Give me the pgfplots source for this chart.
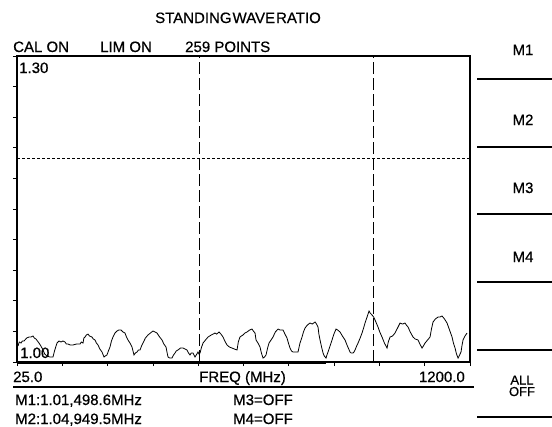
\documentclass[border=0pt]{standalone}
\usepackage{pgfplots}
\pgfplotsset{compat=1.18}
\usepackage{fontspec}
\setmainfont{Liberation Sans}[FakeBold=0.6]
\begin{document}
\begin{tikzpicture}[every node/.style={inner sep=0pt,font=\fontsize{15bp}{18bp}\selectfont}]
\begin{axis}[
  scale only axis, width=453bp, height=306bp,
  xmin=25, xmax=1200, ymin=1.0, ymax=1.30,
  xtick={25,142.5,260,377.5,495,612.5,730,847.5,965,1082.5,1200},
  ytick={1.00,1.03,1.06,1.09,1.12,1.15,1.18,1.21,1.24,1.27,1.30},
  xticklabels={}, yticklabels={},
  tick pos=left, tick align=outside, major tick length=4bp,
  tick style={black, line width=0.8bp},
  axis line style={line width=1.5bp},
]
\addplot[black, line width=0.8bp] coordinates {
(27.6,1.0157)(31.0,1.0196)(35.4,1.0186)(39.0,1.0206)(43.2,1.0206)(50.0,1.0235)(56.1,1.0245)(61.0,1.0245)(66.5,1.0255)(70.0,1.0235)(74.3,1.0225)(78.0,1.0206)(82.1,1.0186)(87.0,1.0157)(92.4,1.0118)(97.0,1.0078)(102.8,1.0059)(110.0,1.0049)(118.4,1.0049)(123.0,1.0118)(128.8,1.0186)(134.0,1.0206)(139.1,1.0196)(144.0,1.0206)(149.5,1.0196)(153.0,1.0176)(157.3,1.0176)(163.0,1.0167)(170.3,1.0167)(179.0,1.0176)(188.4,1.0176)(192.0,1.0196)(196.2,1.0186)(198.5,1.0235)(201.4,1.0245)(205.0,1.0265)(209.2,1.0274)(213.0,1.0255)(219.5,1.0245)(223.0,1.0225)(227.3,1.0216)(231.0,1.0186)(235.1,1.0167)(240.0,1.0127)(245.5,1.0098)(250.7,1.0049)(254.0,1.0059)(258.4,1.0069)(262.0,1.0108)(266.2,1.0147)(270.0,1.0206)(274.0,1.0245)(279.0,1.0284)(284.4,1.0304)(289.0,1.0314)(294.8,1.0314)(300.0,1.0294)(305.1,1.0284)(309.0,1.0245)(312.9,1.0216)(318.0,1.0186)(323.3,1.0147)(328.5,1.0069)(332.0,1.0088)(336.3,1.0098)(340.0,1.0118)(344.1,1.0118)(348.0,1.0157)(351.8,1.0186)(358.0,1.0235)(364.8,1.0265)(371.0,1.0284)(377.8,1.0304)(383.0,1.0294)(388.1,1.0284)(395.0,1.0245)(401.1,1.0216)(406.0,1.0176)(411.5,1.0147)(414.0,1.0098)(416.7,1.0049)(421.0,1.0039)(427.1,1.0039)(431.0,1.0069)(434.8,1.0088)(438.0,1.0108)(442.6,1.0118)(449.0,1.0137)(455.6,1.0137)(461.0,1.0127)(466.0,1.0118)(470.0,1.0088)(473.8,1.0069)(477.0,1.0088)(481.5,1.0088)(484.0,1.0069)(486.7,1.0049)(490.0,1.0069)(494.5,1.0098)(497.0,1.0078)(499.7,1.0088)(503.0,1.0137)(507.5,1.0186)(514.0,1.0216)(520.5,1.0245)(529.0,1.0265)(538.6,1.0284)(543.0,1.0274)(549.0,1.0294)(554.0,1.0274)(559.4,1.0245)(564.0,1.0206)(569.7,1.0167)(576.0,1.0147)(582.7,1.0137)(589.0,1.0127)(595.7,1.0118)(599.0,1.0196)(603.4,1.0245)(607.0,1.0255)(611.2,1.0265)(616.0,1.0284)(621.6,1.0294)(628.0,1.0313)(634.6,1.0323)(638.0,1.0304)(642.4,1.0284)(645.0,1.0216)(650.0,1.0186)(655.3,1.0147)(659.0,1.0088)(663.1,1.0039)(667.0,1.0049)(670.9,1.0069)(675.0,1.0137)(678.7,1.0186)(684.0,1.0216)(689.0,1.0245)(695.0,1.0294)(702.0,1.0323)(708.0,1.0313)(715.0,1.0314)(720.0,1.0274)(725.3,1.0235)(729.0,1.0186)(733.1,1.0137)(737.0,1.0108)(740.9,1.0098)(747.0,1.0098)(753.9,1.0098)(759.0,1.0186)(764.3,1.0245)(768.0,1.0294)(772.1,1.0333)(778.0,1.0362)(785.0,1.0382)(791.0,1.0372)(798.0,1.0392)(802.0,1.0372)(805.8,1.0343)(808.0,1.0274)(811.0,1.0216)(815.0,1.0147)(818.8,1.0088)(822.0,1.0059)(826.5,1.0039)(829.0,1.0069)(831.7,1.0098)(837.0,1.0157)(842.1,1.0216)(847.0,1.0274)(852.5,1.0323)(857.0,1.0313)(862.9,1.0294)(869.0,1.0255)(875.8,1.0216)(882.0,1.0157)(888.8,1.0098)(892.0,1.0088)(896.6,1.0088)(899.0,1.0098)(901.8,1.0118)(906.0,1.0157)(909.6,1.0186)(915.0,1.0235)(919.9,1.0284)(924.0,1.0333)(927.7,1.0382)(933.0,1.0441)(938.1,1.0500)(941.0,1.0480)(945.9,1.0461)(950.0,1.0441)(953.7,1.0412)(957.0,1.0382)(961.4,1.0343)(966.0,1.0294)(971.8,1.0245)(978.0,1.0186)(984.8,1.0137)(988.0,1.0196)(992.6,1.0245)(999.0,1.0255)(1005.5,1.0284)(1012.0,1.0333)(1018.5,1.0382)(1025.0,1.0372)(1031.5,1.0382)(1035.0,1.0362)(1039.3,1.0343)(1045.0,1.0294)(1052.2,1.0245)(1058.0,1.0225)(1065.2,1.0216)(1070.0,1.0176)(1075.6,1.0137)(1079.0,1.0157)(1083.4,1.0186)(1090.0,1.0216)(1096.3,1.0245)(1100.0,1.0323)(1104.1,1.0392)(1110.0,1.0421)(1117.1,1.0441)(1122.0,1.0441)(1127.5,1.0451)(1134.0,1.0421)(1140.4,1.0382)(1147.0,1.0313)(1153.4,1.0245)(1157.0,1.0186)(1161.2,1.0137)(1165.0,1.0078)(1169.0,1.0039)(1173.0,1.0069)(1176.7,1.0098)(1179.0,1.0157)(1181.9,1.0216)(1187.0,1.0255)(1192.3,1.0284)
};
\addplot[black, line width=0.9bp, dash pattern=on 12bp off 4bp] coordinates {(498.6,1.0)(498.6,1.30)};
\addplot[black, line width=0.9bp, dash pattern=on 12bp off 4bp] coordinates {(949.5,1.0)(949.5,1.30)};
\addplot[black, line width=0.6bp, dash pattern=on 3bp off 2bp] coordinates {(25,1.20)(1200,1.20)};
\end{axis}
\begin{scope}[x=1bp,y=1bp,shift={(-17bp,362bp)}]
\useasboundingbox (0,0) rectangle (552,-426);
\draw[line width=3bp] (17,-362) -- (326,-362);
% header
\node[anchor=base] at (238,-23) {STANDING{\hspace{1bp}}WAVE{\hspace{1bp}}RATIO};
\node[anchor=base west] at (13,-52) {CAL ON};
\node[anchor=base west] at (100,-52) {LIM ON};
\node[anchor=base west] at (185,-52) {259 POINTS};
\node[anchor=base west] at (19,-73) {1.30};
\node[anchor=base west] at (20,-358) {1.00};
% below axis
\node[anchor=base west] at (13,-382) {25.0};
\node[anchor=base west] at (199,-382) {FREQ (MHz)};
\node[anchor=base east] at (465,-382) {1200.0};
\draw[line width=1.5bp] (13,-387) -- (474,-387);
\node[anchor=base west] at (15,-405) {M1:1.01,498.6MHz};
\node[anchor=base west] at (15,-424) {M2:1.04,949.5MHz};
\node[anchor=base west] at (233,-405) {M3=OFF};
\node[anchor=base west] at (233,-424) {M4=OFF};
% softkeys
\node[anchor=base] at (523,-55) {M1};
\node[anchor=base] at (523,-125) {M2};
\node[anchor=base] at (523,-193) {M3};
\node[anchor=base] at (523,-262) {M4};
\node[anchor=base, font=\fontsize{13bp}{15bp}\selectfont] at (522,-384.5) {ALL};
\node[anchor=base, font=\fontsize{13bp}{15bp}\selectfont] at (522,-396) {OFF};
\foreach \yy in {79,147,214,282,350,417} {
  \draw[line width=1.3bp] (477,-\yy) -- (552,-\yy);
}
\end{scope}
\end{tikzpicture}
\end{document}
